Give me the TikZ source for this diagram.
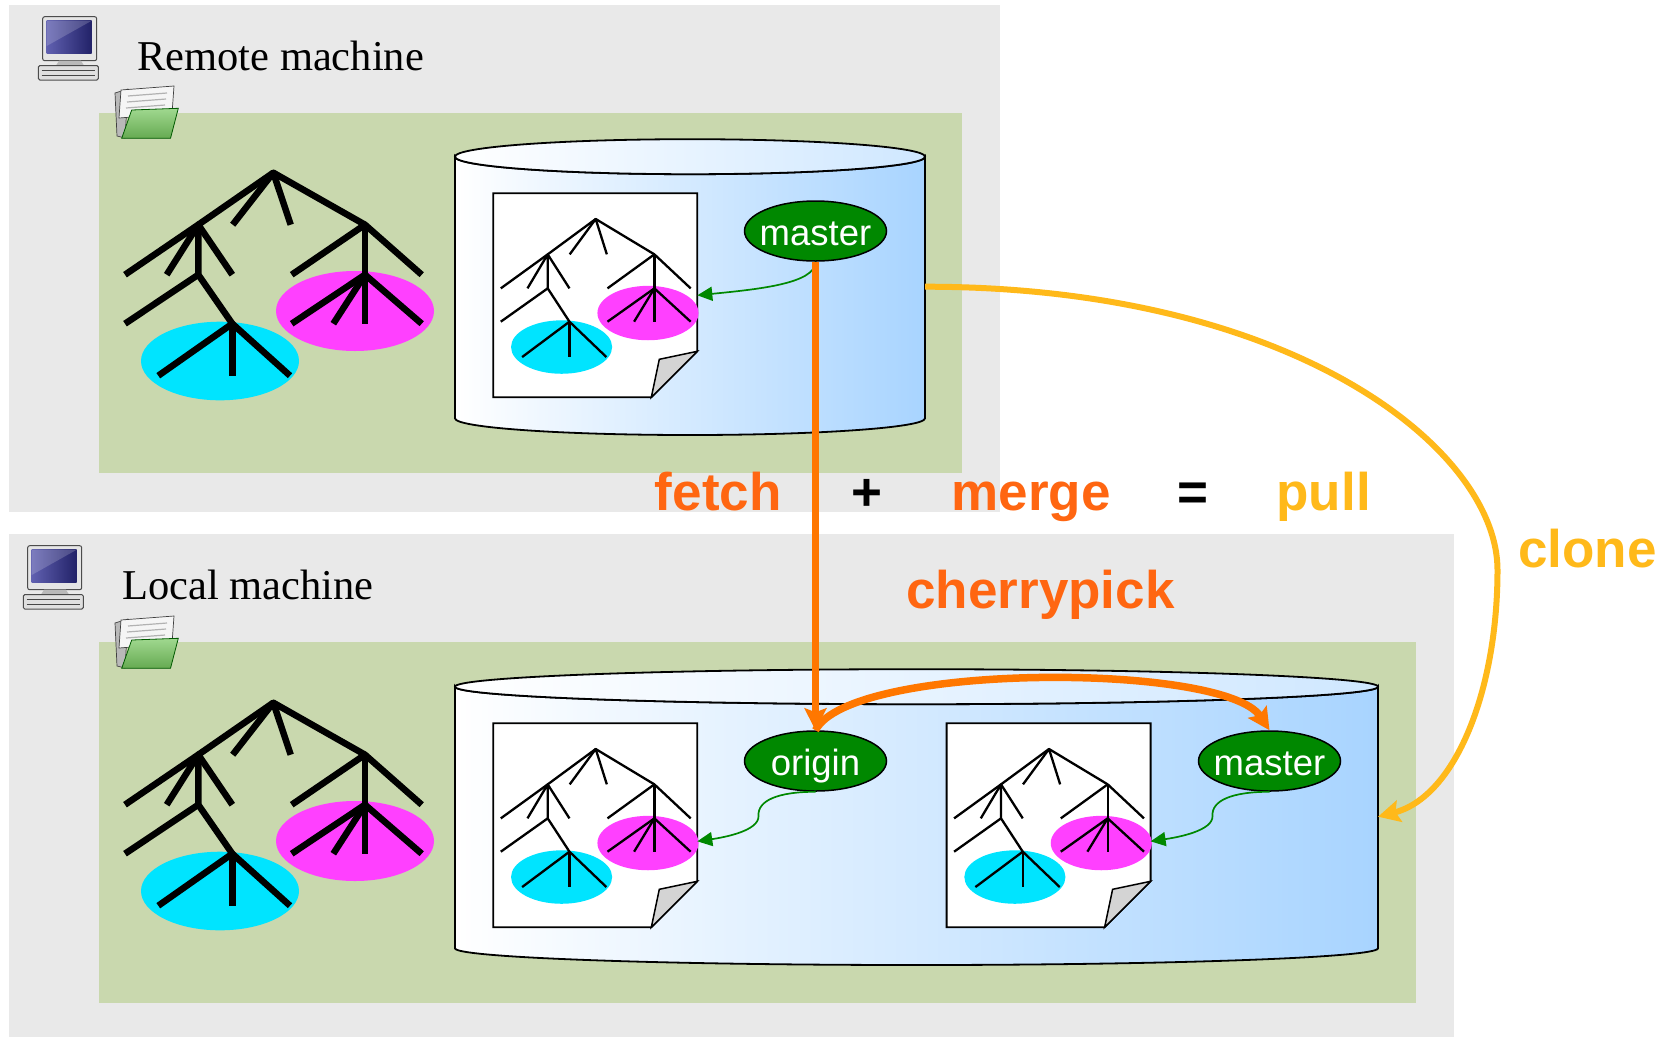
\documentclass[tikz,border=0pt]{standalone}
\usepackage{fontspec}
\setmainfont{Liberation Serif}
\newfontfamily\labelfont{Liberation Sans}
\usetikzlibrary{arrows.meta,positioning,calc,shapes.geometric}

\definecolor{boxgray}{RGB}{233,233,233}
\definecolor{dirgreen}{RGB}{201,216,174}
\definecolor{branchgreen}{RGB}{0,136,0}
\definecolor{cylblue}{RGB}{168,212,255}
\definecolor{subcyan}{RGB}{0,228,255}
\definecolor{submagenta}{RGB}{255,64,255}
\definecolor{gitorange}{RGB}{255,119,0}
\definecolor{cmdorange}{RGB}{255,102,17}
\definecolor{gityellow}{RGB}{255,185,26}
\definecolor{foldgray}{RGB}{212,212,212}
\definecolor{scrdark}{RGB}{34,34,104}
\definecolor{scrlight}{RGB}{96,96,176}
\definecolor{flapgreen}{RGB}{120,200,96}

\tikzset{
	machinetitle/.style = {anchor=base west, inner sep=0pt, font=\fontsize{42.5}{50}\selectfont},
	cmd/.style = {anchor=base, inner sep=0pt, font=\labelfont\bfseries\fontsize{53}{60}\selectfont},
	branchnode/.style = {ellipse, draw=black, line width=1.5pt, fill=branchgreen, text=white,
		minimum width=142pt, minimum height=60pt, inner xsep=-8pt, inner ysep=0pt,
		text height=28pt, text depth=0pt, font=\labelfont\fontsize{36.5}{40}\selectfont},
	ptr/.style = {draw=branchgreen, line width=1.7pt, -{Triangle[length=15pt,width=14pt]}},
	gitline/.style = {draw=gitorange, line width=7.5pt, -{Stealth[length=22pt,width=22pt,inset=4pt]}},
	cloneline/.style = {draw=gityellow, line width=6pt, -{Stealth[length=22pt,width=22pt,inset=4pt]}},
	% commit tree, root at the origin
	revtree/.pic = {
		\fill[subcyan] (-53.3,188.3) ellipse [x radius=79, y radius=39.3];
		\fill[submagenta] (81.7,138.3) ellipse [x radius=79, y radius=40];
		\begin{scope}[line join=round]
			\draw (-75,52) -- (0,0) -- (91.7,52);
			\draw (-40.6,52) -- (0,0) -- (17.4,52);
			\draw (-148.3,102) -- (-75,52) -- (-41,102);
			\draw (-106.6,102) -- (-75,52) -- (-75,102) -- (-41,151);
			\draw (-148.3,151) -- (-75,102);
			\draw (-115,203) -- (-41,151) -- (16.7,203);
			\draw (-41,151) -- (-41,203);
			\draw (18.4,102) -- (91.7,52) -- (148.4,102);
			\draw (91.7,52) -- (91.7,102) -- (91.7,151);
			\draw (18.4,151) -- (91.7,102) -- (148.4,151);
			\draw (60,151) -- (91.7,102);
		\end{scope}
	},
	% snapshot sheet with a folded corner
	doc/.pic = {
		\draw[fill=white, line width=1.8pt] (0,0) -- (204,0) -- (204,158) -- (158,204) -- (0,204) -- cycle;
		\draw[fill=foldgray, line width=1.5pt] (158,204) -- (166,166) -- (204,158) -- cycle;
		\pic[xscale=.64, yscale=.68, line width=2.3pt] at (102.4,25.7) {revtree};
		\coordinate (-e) at (204,118);
	},
	computer/.pic = {
		\draw[draw=gray!60!black, fill=gray!20, line width=1pt, rounded corners=2pt] (42.7,16.7) rectangle (96.7,60.7);
		\fill[left color=scrlight, right color=scrdark] (46.7,20.7) rectangle (91.7,53.3);
		\fill[white, opacity=.18] (46.7,20.7) -- (91.7,20.7) -- (46.7,46) -- cycle;
		\fill[gray!55] (59,60.7) -- (81,60.7) -- (84,65.5) -- (56,65.5) -- cycle;
		\draw[draw=gray!60!black, fill=gray!25, line width=1pt, rounded corners=1.5pt] (38.3,65.5) rectangle (98.3,80);
		\draw[gray!55!black, line width=.8pt] (41.5,70.5) -- (95,70.5) (41.5,75) -- (95,75);
	},
	folder/.pic = {
		\draw[fill=gray!55, draw=gray!50!black, line width=.7pt] (115,93) -- (128,89) -- (125,138) -- (117,136) -- cycle;
		\draw[fill=gray!8, draw=gray!50!black, line width=.7pt] (121,90) -- (174,86) -- (172,114) -- (119,118) -- cycle;
		\draw[gray!60, line width=1.2pt] (128,96) -- (167,93) (127,102) -- (166,99) (126,108) -- (165,105);
		\draw[draw=green!35!black, line width=.8pt, top color=flapgreen!70!white, bottom color=flapgreen!85!black]
			(131.7,110) -- (178.3,108.3) -- (170.5,138.3) -- (121.7,138.3) -- cycle;
	}
}

% repository cylinder: name, left, right, top, bottom
\newcommand{\repo}[5]{%
	\pgfmathsetmacro\repocx{(#2+#3)/2}%
	\pgfmathsetmacro\reporx{(#3-#2)/2}%
	\draw[left color=white, right color=cylblue, line width=1.8pt]
		(#2,#4) -- (#2,#5) arc[start angle=180, end angle=0, x radius=\reporx, y radius=16.7]
		-- (#3,#4) arc[start angle=0, end angle=180, x radius=\reporx, y radius=17.5] -- cycle;
	\draw[left color=white, right color=cylblue!55, line width=1.8pt] (\repocx,#4) ellipse [x radius=\reporx, y radius=17.5];
	\coordinate (#1-e) at (#3,#4+130);
}

\begin{document}
\begin{tikzpicture}[x=1pt, y=-1pt]
	\useasboundingbox[fill=white] (0,0) rectangle (1664,1037);

	% machines and working directories
	\fill[boxgray] (9,5) rectangle (1000,511.7);
	\fill[dirgreen] (99,112.7) rectangle (962,473.3);
	\fill[boxgray] (9,534.3) rectangle (1454,1037);
	\fill[dirgreen] (99,642) rectangle (1415.6,1002.7);

	\pic at (0,0) {computer};
	\pic at (-15,529) {computer};
	\pic at (0,0) {folder};
	\pic at (0,530) {folder};
	\node[machinetitle] (rtitle) at (137,70) {Remote machine};
	\node[machinetitle] (ltitle) at (122,599) {Local machine};

	\pic[line width=6.5pt] at (273.3,172.7) {revtree};
	\pic[line width=6.5pt] at (273.3,702.7) {revtree};

	% repositories
	\repo{rrepo}{455}{925}{156.7}{418.3}
	\repo{lrepo}{455}{1378}{686.7}{948.3}
	\pic (rdoc) at (493.3,193.3) {doc};
	\pic (ldoca) at (493.3,723.3) {doc};
	\pic (ldocb) at (946.6,723.3) {doc};

	\node[branchnode] (rmaster) at (815.5,231) {master};
	\node[branchnode] (origin) at (815.5,761) {origin};
	\node[branchnode] (lmaster) at (1269.5,761) {master};

	\draw[ptr] (rmaster.south) .. controls +(0,22) and +(60,-6) .. ($(rdoc-e)+(0,-16)$);
	\draw[ptr] (origin.south) .. controls +(-38,0) and +(-1,-15) .. ++(-57,24)
		.. controls +(1,15) and +(27,-4) .. (ldoca-e);
	\draw[ptr] (lmaster.south) .. controls +(-38,0) and +(-1,-15) .. ++(-57,24)
		.. controls +(1,15) and +(27,-4) .. (ldocb-e);

	% commands
	\coordinate (clonebend) at (1497.5,570);
	\draw[cloneline] (rrepo-e) .. controls +(370,0) and +(0,-120) .. (clonebend)
		.. controls +(0,120) and +(77.6,-20) .. (lrepo-e);
	\draw[gitline] (rmaster.south) -- (origin.north);
	\draw[gitline] (origin.north) .. controls +(35,-68) and +(-45,-68) .. (lmaster.north);

	\node[cmd, text=cmdorange] (fetchlbl) at (718.3,510) {fetch};
	\node[cmd] (pluslbl) at (866.7,510) {+};
	\node[cmd, text=cmdorange] (mergelbl) at (1031,510) {merge};
	\node[cmd] (equalslbl) at (1193,510) {=};
	\node[cmd, text=gityellow] (pulllbl) at (1323.6,510) {pull};
	\node[cmd, text=gityellow] (clonelbl) at (1587.6,567) {clone};
	\node[cmd, text=cmdorange] (cherrylbl) at (1040.5,608) {cherrypick};
\end{tikzpicture}
\end{document}
